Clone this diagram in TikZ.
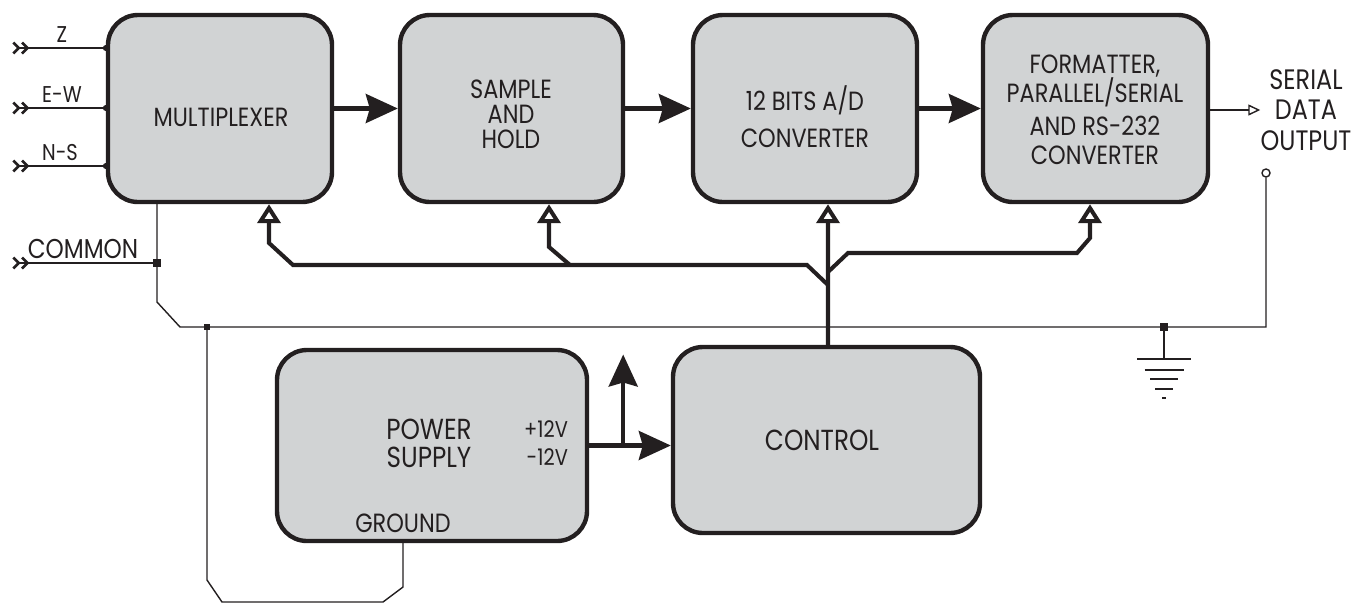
\documentclass[tikz,border=0pt]{standalone}
\usepackage{fontspec}
\setmainfont{Poppins}[FakeStretch=0.85]
\usetikzlibrary{arrows.meta,calc}
\definecolor{BlockGray}{HTML}{D1D3D4}
\definecolor{InkBlack}{HTML}{231F20}
\tikzset{dchev/.tip={Straight Barb[reversed,length=1.1mm,width=2.2mm,line width=1.5pt] Straight Barb[reversed,length=1.1mm,width=2.2mm,line width=1.5pt]}}

\begin{document}
\begin{tikzpicture}[x=0.2mm,y=-0.2mm,
    block/.style={draw=InkBlack,fill=BlockGray,line width=2.5pt,rounded corners=6mm,inner sep=0pt},
    lbl/.style={text=InkBlack,inner sep=0pt},
    blocktext/.style={lbl,align=center,font=\fontsize{15}{14.2}\selectfont},
    bus/.style={draw=InkBlack,line width=2.3pt},
    wire/.style={draw=InkBlack,line width=0.8pt},
    dataflow/.style={bus,-{Stealth[length=6.4mm,width=5.8mm,inset=0.8mm]}},
    tapline/.style={bus,-{Triangle[fill=white,length=3.8mm,width=4.6mm]}},
    jsq/.style={fill=InkBlack,inner sep=0pt,minimum size=1.6mm}]
  \useasboundingbox (0,0) rectangle (1351,605);
  % signal chain
  \node[block,minimum width=44.8mm,minimum height=37.4mm] (mux) at (220,108.5) {};
  \node[block,minimum width=44.6mm,minimum height=37.4mm] (sh) at (511.5,108.5) {};
  \node[block,minimum width=44.8mm,minimum height=37.4mm] (ad) at (805,108.5) {};
  \node[block,minimum width=45mm,minimum height=37.4mm] (fmt) at (1095.5,108.5) {};
  \node[block,minimum width=62mm,minimum height=38.2mm] (ps) at (432,445.5) {};
  \node[block,minimum width=61.4mm,minimum height=37.2mm] (ctrl) at (826.5,440) {};
  \node[blocktext] (muxtxt) at (221,117) {MULTIPLEXER};
  \node[blocktext] (shtxt) at (511,114) {SAMPLE\\AND\\HOLD};
  \node[blocktext,font=\fontsize{15}{21}\selectfont] (adtxt) at (805,117) {12 BITS A/D\\CONVERTER};
  \node[blocktext,font=\fontsize{15}{16.8}\selectfont] (fmttxt) at (1095,110) {FORMATTER,\\PARALLEL/SERIAL\\[0.6mm]AND RS-232\\CONVERTER};
  \node[blocktext,font=\fontsize{16.5}{17}\selectfont] (ctrltxt) at (822,440) {CONTROL};
  \node[blocktext,font=\fontsize{16.5}{15.8}\selectfont] (pstxt) at (429,443) {POWER\\SUPPLY};
  \node[lbl,align=right,font=\fontsize{13}{15.5}\selectfont] (pvtxt) at (546,443) {+12V\\-12V};
  \node[lbl,font=\fontsize{15}{15}\selectfont] (gndtxt) at (403,523) {GROUND};

  \draw[dataflow] (mux) -- (sh);
  \draw[dataflow] (sh) -- (ad);
  \draw[dataflow] (ad) -- (fmt);
  \draw[dataflow] (ps.east) -- (ps.east -| ctrl.west);
  \coordinate (vtap) at ($(ps.east)+(34,0)$);
  \draw[dataflow] (vtap) -- +(0,-91);

  % control bus
  \coordinate (muxtap) at ($(mux.south)+(49,0)$);
  \coordinate (shtap) at ($(sh.south)+(37.5,0)$);
  \coordinate (adtap) at ($(ad.south)+(23,0)$);
  \coordinate (fmttap) at ($(fmt.south)+(-5.5,0)$);
  \coordinate (ctrltap) at ($(ctrl.north)+(1.5,0)$);
  \draw[tapline] (ctrltap) -- (adtap);
  \draw[tapline] (828,285) -- (807,265) -- (293,265) -- (269,243) -- (muxtap);
  \draw[tapline] (570,265) -- (549,247) -- (shtap);
  \draw[tapline] (828,272) -- (848,253) -- (1077,253) -- (1090,238) -- (fmttap);

  % analog inputs
  \foreach \lab/\yy/\lx in {Z/48/62,E-W/108/62,N-S/166/60} {
    \coordinate (src) at (12,\yy);
    \draw[wire,dchev-] (src) -- (src -| mux.west);
    \fill[InkBlack] (src -| mux.west) circle (0.6mm);
    \node[lbl,font=\fontsize{13}{13}\selectfont] (in\yy) at (\lx,\yy-13) {\lab};
  }
  \coordinate (comsrc) at (12,263);
  \coordinate (comj) at (157,263);
  \node[lbl,font=\fontsize{15.5}{15}\selectfont] (comlbl) at (83,249) {COMMON};
  \draw[wire,dchev-] (comsrc) -- (comj);

  % output
  \node[lbl,align=center,font=\fontsize{16}{17.5}\selectfont] (outlbl) at (1306,110) {SERIAL\\DATA\\OUTPUT};
  \draw[wire,-{Triangle[open,length=2.4mm,width=2.2mm]}] (fmt.east |- outlbl.west) -- (outlbl.west);
  \node[circle,wire,fill=white,inner sep=0pt,minimum size=1.6mm] (term) at (1266,173) {};

  % common / ground
  \coordinate (psj) at (207,327);
  \coordinate (gndj) at (1164,327);
  \coordinate (outj) at (1266,327);
  \coordinate (psgnd) at ($(ps.south)+(-29,0)$);
  \draw[wire] (mux.south -| comj) -- (157,302) -- (180,327) -- (outj) -- (term);
  \draw[wire] (psj) -- (207,580) -- (222,602) -- (383,602) -- (403,587) -- (psgnd);
  \draw[wire] (gndj) -- (1164,359);
  \foreach \gy/\gw in {359/27,370/19.5,379/14,389/9,398/2}
    \draw[wire] (1164-\gw,\gy) -- (1164+\gw,\gy);
  \node[jsq] (comsq) at (comj) {};
  \node[jsq,minimum size=1.2mm] (pssq) at (psj) {};
  \node[jsq] (gndsq) at (gndj) {};
\end{tikzpicture}
\end{document}
